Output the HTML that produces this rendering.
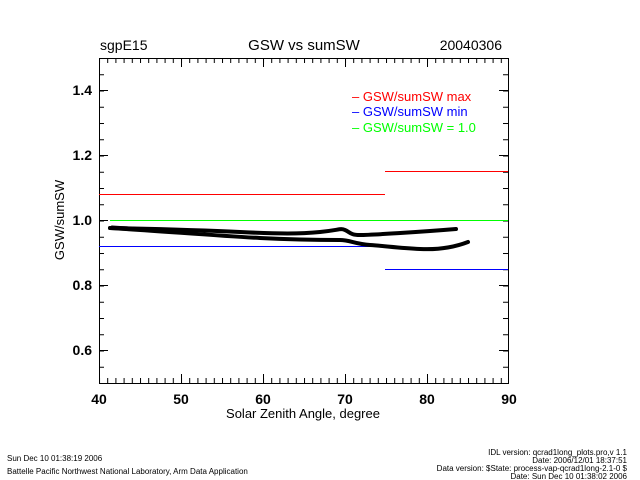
<!DOCTYPE html>
<html><head><style>body{margin:0;background:#fff}svg{display:block}text{font-family:"Liberation Sans",sans-serif}</style></head><body>
<svg width="640" height="480" viewBox="0 0 640 480">
<defs>
<pattern id="xt" patternUnits="userSpaceOnUse" x="99" y="0" width="8.2" height="480"><rect x="0" y="378" width="1" height="5" fill="#000"/><rect x="0" y="58" width="1" height="5" fill="#000"/></pattern>
<pattern id="yt" patternUnits="userSpaceOnUse" x="0" y="58" width="640" height="16.25"><rect x="99" y="0" width="5" height="1" fill="#000"/><rect x="503" y="0" width="5" height="1" fill="#000"/></pattern>
</defs>
<rect x="99" y="378" width="410" height="5" fill="url(#xt)"/>
<rect x="99" y="58" width="410" height="5" fill="url(#xt)"/>
<rect x="99" y="58" width="5" height="325" fill="url(#yt)"/>
<rect x="503" y="58" width="5" height="325" fill="url(#yt)"/>
<g stroke="#000" stroke-width="1" fill="none" shape-rendering="crispEdges">
<rect x="99.5" y="58.5" width="409" height="325"/>
<path d="M181.5 383v-9M263.5 383v-9M345.5 383v-9M427.5 383v-9M181.5 58v9M263.5 58v9M345.5 58v9M427.5 58v9
M99 350.5h9M99 285.5h9M99 220.5h9M99 155.5h9M99 90.5h9M508 350.5h-9M508 285.5h-9M508 220.5h-9M508 155.5h-9M508 90.5h-9"/>
</g>
<g font-size="14" font-weight="bold" fill="#000">
<text x="99" y="404" text-anchor="middle">40</text>
<text x="181" y="404" text-anchor="middle">50</text>
<text x="263" y="404" text-anchor="middle">60</text>
<text x="345" y="404" text-anchor="middle">70</text>
<text x="427" y="404" text-anchor="middle">80</text>
<text x="509" y="404" text-anchor="middle">90</text>
<text x="92" y="355" text-anchor="end">0.6</text>
<text x="92" y="290" text-anchor="end">0.8</text>
<text x="92" y="225" text-anchor="end">1.0</text>
<text x="92" y="160" text-anchor="end">1.2</text>
<text x="92" y="95" text-anchor="end">1.4</text>
</g>
<text x="303" y="418" font-size="13" text-anchor="middle">Solar Zenith Angle, degree</text>
<text transform="translate(64,220) rotate(-90)" font-size="13" text-anchor="middle">GSW/sumSW</text>
<text x="100" y="50" font-size="14">sgpE15</text>
<text x="304" y="50" font-size="15" text-anchor="middle">GSW vs sumSW</text>
<text x="502" y="50" font-size="14" text-anchor="end">20040306</text>
<g stroke-width="1" shape-rendering="crispEdges">
<line x1="99" y1="194.5" x2="385" y2="194.5" stroke="#f00"/>
<line x1="385" y1="171.5" x2="508" y2="171.5" stroke="#f00"/>
<line x1="99" y1="246.5" x2="385" y2="246.5" stroke="#00f"/>
<line x1="385" y1="269.5" x2="508" y2="269.5" stroke="#00f"/>
<line x1="110" y1="220.5" x2="508" y2="220.5" stroke="#0f0"/>
</g>
<g stroke="#000" stroke-width="4" fill="none" stroke-linecap="round">
<path d="M110 228 C160 229 200 230 240 232 S300 234 320 232 S340 228 345 230 S350 235 360 235 S420 232 456 229"/>
<path d="M110 228 C160 231 220 236 260 238 S330 240 340 240 S355 244 370 245 S400 248 420 249 S455 247 468 242"/>
<path d="M112 227 C150 229 170 231 190 233" stroke-width="3"/>
</g>
<g font-size="13">
<text x="352" y="101" fill="#f00">– GSW/sumSW max</text>
<text x="352" y="116" fill="#00f">– GSW/sumSW min</text>
<text x="352" y="132" fill="#0f0">– GSW/sumSW = 1.0</text>
</g>
<g font-size="8" fill="#000">
<text x="7" y="461">Sun Dec 10 01:38:19 2006</text>
<text x="7" y="474">Battelle Pacific Northwest National Laboratory, Arm Data Application</text>
<text x="627" y="455" text-anchor="end">IDL version: qcrad1long_plots.pro,v 1.1</text>
<text x="627" y="463" text-anchor="end">Date: 2006/12/01 18:37:51</text>
<text x="627" y="471" text-anchor="end">Data version: $State: process-vap-qcrad1long-2.1-0 $</text>
<text x="627" y="479" text-anchor="end">Date: Sun Dec 10 01:38:02 2006</text>
</g>
</svg>
</body></html>
